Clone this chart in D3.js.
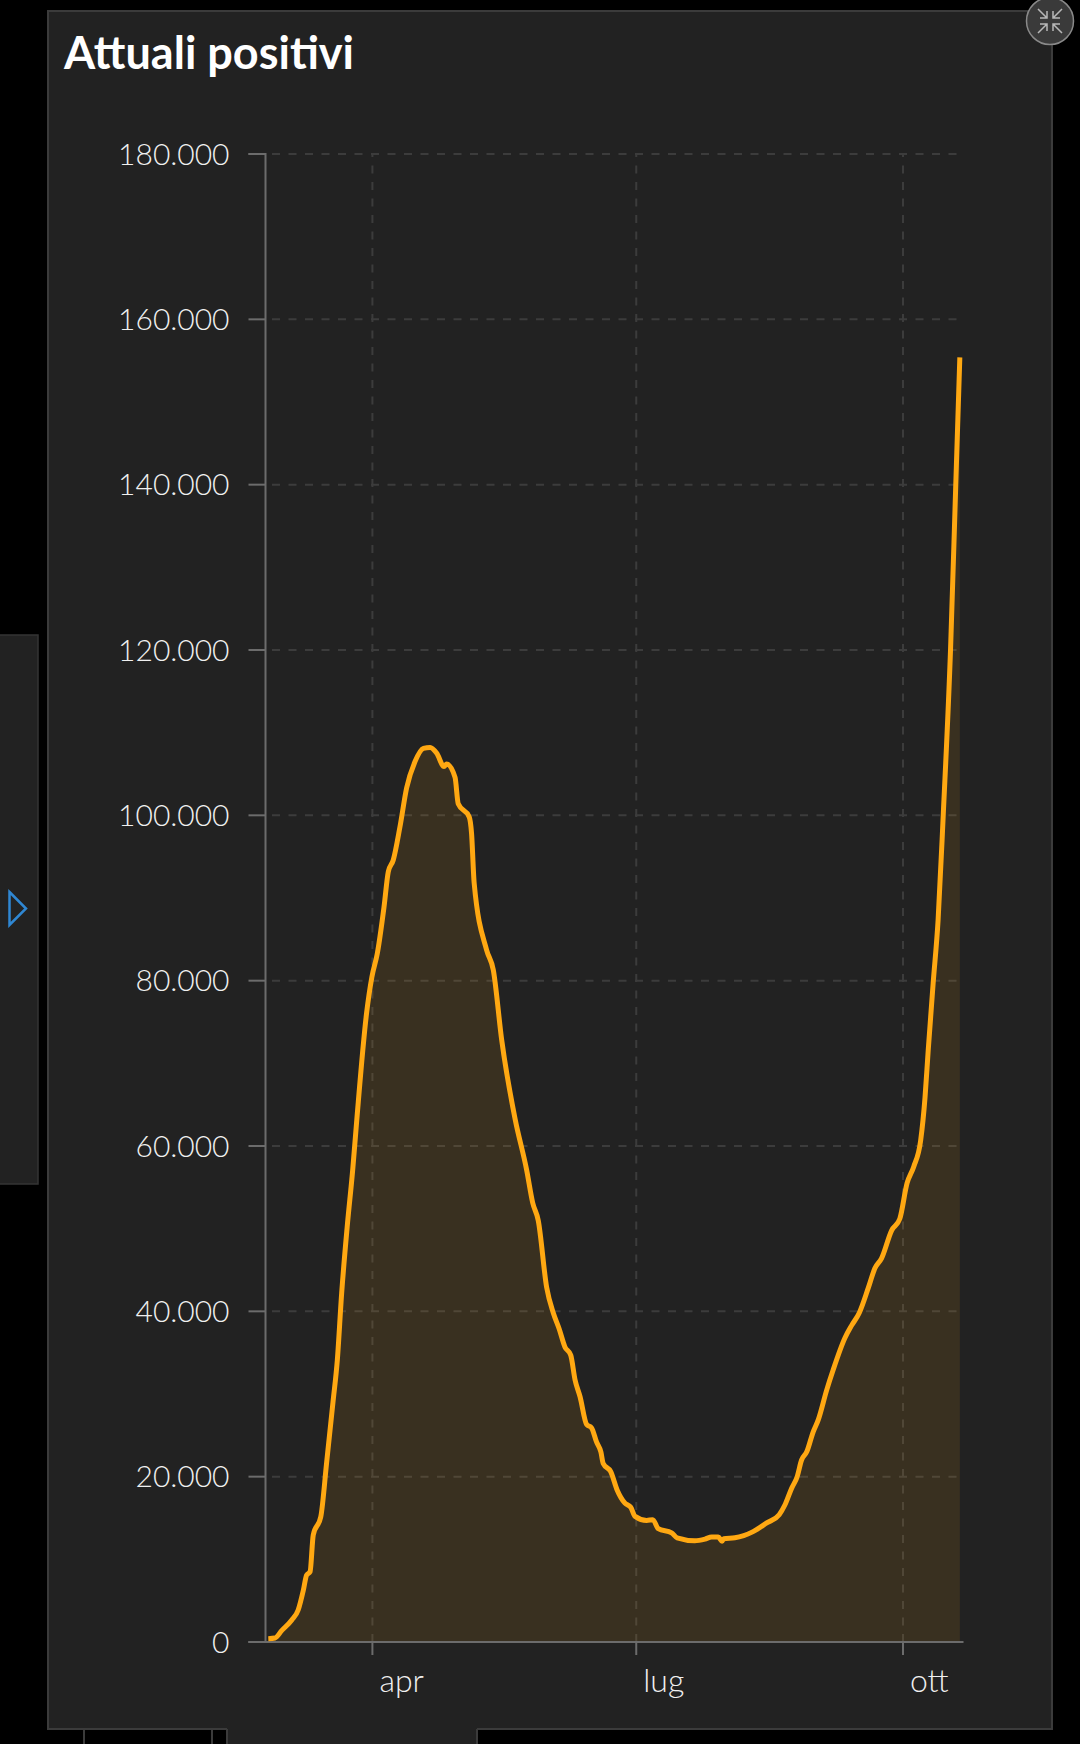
<!DOCTYPE html>
<html><head><meta charset="utf-8">
<script src="https://cdn.jsdelivr.net/npm/d3@7"></script>
<style>
html,body{margin:0;padding:0;background:#000;}
svg{display:block;}
text{font-family:Lato,"Open Sans",sans-serif;}
</style></head><body>
<svg id="c" width="1080" height="1744"></svg>
<script>
const title = "Attuali positivi";
const monthLabels = ["apr", "lug", "ott"];
const monthDates = ["2020-04-01", "2020-07-01", "2020-10-01"];
const yTicks = [0, 20000, 40000, 60000, 80000, 100000, 120000, 140000, 160000, 180000];
// days after 1 April 2020
const days = [-35.9,-33.6,-31.3,-27.8,-25.6,-23.8,-22.7,-21.5,-20.4,-17.8,-15.8,-13.6,-12.1,-10.6,-8.7,-6.8,-5.4,-2.0,-0.2,1.7,4.0,5.5,7.2,9.5,11.8,14.7,17.6,19.9,22.2,24.7,25.6,28.5,29.6,33.4,34.2,35.1,39.4,41.7,44.6,49.2,53.2,55.3,57.2,60.1,62.4,64.4,66.4,68.4,69.9,71.6,73.9,75.6,77.3,78.8,79.6,82.2,84.4,87.1,89.1,90.6,94.6,96.7,98.6,103.2,105.1,111.2,114.7,117.0,119.3,120.6,121.2,125.0,131.3,136.0,140.3,142.3,144.6,146.5,148.0,149.8,152.0,153.8,156.7,158.9,163.0,165.3,167.9,171.0,173.3,175.6,179.1,181.9,184.4,186.7,189.1,190.6,191.7,193.4,195.1,196.9,199.4,201.2,202.6];
const positives = [400,484,1370,2660,3870,6290,8100,8500,12950,15150,21650,29000,34100,42200,50200,57100,63100,76100,80400,83300,88900,93200,94600,98600,103300,106500,108100,108200,107500,105900,106200,104600,101400,99800,97800,91800,83700,81300,72800,63300,57100,53100,51000,42900,39800,37900,35700,34700,31700,29700,26300,25900,24200,23000,21600,20600,18400,16800,16300,15200,14700,14800,13700,13200,12600,12250,12450,12700,12700,12200,12500,12600,13350,14400,15400,16600,18600,20000,22000,23000,25400,26900,30500,32900,36800,38300,39800,42800,45200,46400,49800,51200,55500,57500,60700,65900,71600,79700,87300,100200,120100,140000,155400];

const svg = d3.select("#c");
const parse = d3.utcParse("%Y-%m-%d");
const base = parse(monthDates[0]);
const points = days.map((d, i) => ({date: new Date(base.getTime() + d * 864e5), value: positives[i]}));

// page furniture
svg.append("rect").attr("x",48).attr("y",11).attr("width",1004).attr("height",1718).attr("fill","#222").attr("stroke","#3b3b3b").attr("stroke-width",2);
svg.append("rect").attr("x",-2).attr("y",635).attr("width",40).attr("height",549).attr("fill","#222").attr("stroke","#343434").attr("stroke-width",1.5);
svg.append("path").attr("d","M9.5 892 L26 908.5 L9.5 925 Z").attr("fill","none").attr("stroke","#2f87d3").attr("stroke-width",2.5);
// below the panel
svg.append("rect").attr("x",227).attr("y",1728).attr("width",250).attr("height",16).attr("fill","#222");
svg.append("path").attr("d","M84 1730V1744M212 1730V1744M227 1729V1744M477 1729V1744").attr("stroke","#3b3b3b").attr("stroke-width",2).attr("fill","none");

// collapse button
const btn = svg.append("g").attr("transform","translate(1050,21)");
btn.append("circle").attr("r",23.5).attr("fill","#3a3a3a").attr("stroke","#8a8a8a").attr("stroke-width",1.5);
[[-1,-1],[1,-1],[-1,1],[1,1]].forEach(([a,b]) => {
  btn.append("path").attr("fill","none").attr("stroke","#b8b8b8").attr("stroke-width",1.5)
    .attr("d",`M${a*12} ${b*12}L${a*3} ${b*3}M${a*10} ${b*3}L${a*3} ${b*3}L${a*3} ${b*10}`);
});

svg.append("text").attr("x",64).attr("y",69).attr("fill","#fff").attr("font-size",45).attr("font-weight",700).text(title);

const x = d3.scaleUtc().domain([base, parse(monthDates[2])]).range([372.4, 903]);
const y = d3.scaleLinear().domain([0, 180000]).range([1642, 154]);
const fmt = d3.formatLocale({decimal:",",thousands:".",grouping:[3],currency:["€",""]}).format(",d");
const tickDates = monthDates.map(parse);

// grid
const gy = svg.append("g").attr("transform","translate(265,0)")
  .call(d3.axisLeft(y).tickValues(yTicks).tickSize(-698.5).tickFormat("").offset(0));
gy.select(".domain").remove();
gy.selectAll("line").attr("stroke","#3c3c3c").attr("stroke-width",2).attr("stroke-dasharray","8 8.5").attr("stroke-dashoffset",-7);

const gx = svg.append("g").attr("transform","translate(0,1642)")
  .call(d3.axisBottom(x).tickValues(tickDates).tickSize(-1488).tickFormat("").offset(0));
gx.select(".domain").remove();
gx.selectAll("line").attr("stroke","#3c3c3c").attr("stroke-width",2).attr("stroke-dasharray","8 8.5");

// area and line
const area = d3.area().x(d => x(d.date)).y0(y(0)).y1(d => y(d.value)).curve(d3.curveMonotoneX);
const line = d3.line().x(d => x(d.date)).y(d => y(d.value)).curve(d3.curveMonotoneX);
svg.append("path").datum(points).attr("d",area).attr("fill","#ffa812").attr("fill-opacity",0.105);

// axes
const ay = svg.append("g").attr("transform","translate(265.5,0)")
  .call(d3.axisLeft(y).tickValues(yTicks).tickSize(17).tickPadding(19).tickFormat(fmt).offset(0));
ay.select(".domain").attr("stroke","#6c6c6c").attr("stroke-width",2);
ay.selectAll("line").attr("stroke","#6c6c6c").attr("stroke-width",2);
ay.selectAll("text").attr("fill","#f0f0f0").attr("font-size",30).attr("font-weight",300).attr("font-family","Lato").attr("dy","0.35em");

const ax = svg.append("g").attr("transform","translate(0,1642)")
  .call(d3.axisBottom(x).tickValues(tickDates).tickSize(13).tickFormat((d,i) => monthLabels[i]).offset(0));
ax.select(".domain").attr("d","M248.6 0H963.5").attr("stroke","#6c6c6c").attr("stroke-width",2);
ax.selectAll("line").attr("stroke","#6c6c6c").attr("stroke-width",2);
ax.selectAll("text").attr("fill","#f0f0f0").attr("font-size",32).attr("font-weight",300).attr("font-family","Lato")
  .attr("text-anchor","start").attr("x",7).attr("y",50).attr("dy",0);

svg.append("path").datum(points).attr("d",line).attr("fill","none").attr("stroke","#ffa812").attr("stroke-width",5).attr("stroke-linejoin","round");
</script>
</body></html>
